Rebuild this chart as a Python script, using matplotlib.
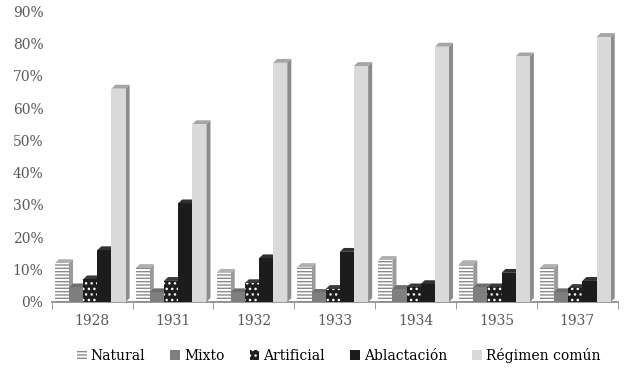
import numpy as np
import matplotlib.pyplot as plt
from matplotlib.patches import Polygon
from matplotlib.ticker import PercentFormatter, FixedLocator

years = ['1928', '1931', '1932', '1933', '1934', '1935', '1937']
natural = [0.12, 0.105, 0.09, 0.108, 0.13, 0.117, 0.105]
mixto = [0.045, 0.03, 0.03, 0.028, 0.04, 0.045, 0.03]
artificial = [0.07, 0.065, 0.058, 0.04, 0.045, 0.045, 0.043]
ablactacion = [0.16, 0.305, 0.135, 0.155, 0.055, 0.09, 0.065]
regimen = [0.66, 0.55, 0.74, 0.73, 0.79, 0.76, 0.82]

series = [natural, mixto, artificial, ablactacion, regimen]
names = ['Natural', 'Mixto', 'Artificial', 'Ablactación', 'Régimen común']

# (front, hatch colour, hatch, side, top)
styles = [
    ('#ffffff', '#8a8a8a', '-----', '#9a9a9a', '#b0b0b0'),
    ('#7f7f7f', '#7f7f7f', None, '#5e5e5e', '#6e6e6e'),
    ('#1e1e1e', '#ffffff', '...', '#444444', '#3a3a3a'),
    ('#1c1c1c', '#1c1c1c', None, '#080808', '#303030'),
    ('#d9d9d9', '#d9d9d9', None, '#8c8c8c', '#a5a5a5'),
]

plt.rcParams['font.family'] = ['DejaVu Serif']
plt.rcParams['hatch.linewidth'] = 1.0

fig = plt.figure(figsize=(6.24, 3.70), dpi=100)
ax = fig.add_axes([0.083, 0.184, 0.907, 0.786])

x = np.arange(len(years))
w = 0.175
dx, dy = 0.05, 0.012

for i, (vals, st) in enumerate(zip(series, styles)):
    front, hc, hatch, side, top = st
    pos = x + (i - 2) * w - 0.025
    ax.bar(pos, vals, width=w, color=front, edgecolor=hc, hatch=hatch,
           linewidth=0, label=names[i], zorder=3)
    # fake 3D: side and top faces
    for p, v in zip(pos, vals):
        l, r = p - w / 2, p + w / 2
        ax.add_patch(Polygon([[r, 0], [r + dx, dy], [r + dx, v + dy], [r, v]],
                             closed=True, facecolor=side, edgecolor='none', zorder=2))
        ax.add_patch(Polygon([[l, v], [l + dx, v + dy], [r + dx, v + dy], [r, v]],
                             closed=True, facecolor=top, edgecolor='none', zorder=2))

ax.set_xlim(-0.5, len(years) - 0.5)
ax.set_ylim(0, 0.9)
ax.yaxis.set_major_formatter(PercentFormatter(1, decimals=0))
ax.set_yticks(np.arange(0, 0.91, 0.1))

ax.set_xticks(x)
ax.set_xticklabels(years)
ax.xaxis.set_minor_locator(FixedLocator(np.arange(-0.5, len(years), 1)))
ax.tick_params(axis='x', which='major', length=0, pad=9, labelsize=10, labelcolor='#595959')
ax.tick_params(axis='x', which='minor', length=5, color='#868686', direction='out')
ax.tick_params(axis='y', length=0, labelsize=10, labelcolor='#595959', pad=6)

for s in ['top', 'right', 'left']:
    ax.spines[s].set_visible(False)
ax.spines['bottom'].set_color('#868686')
ax.spines['bottom'].set_linewidth(1.2)

ax.legend(loc='upper center', bbox_to_anchor=(0.507, -0.115), ncol=5, frameon=False,
          fontsize=10, handlelength=0.7, handleheight=0.7, handletextpad=0.3,
          columnspacing=1.8)

fig.savefig('out.png', dpi=100)
